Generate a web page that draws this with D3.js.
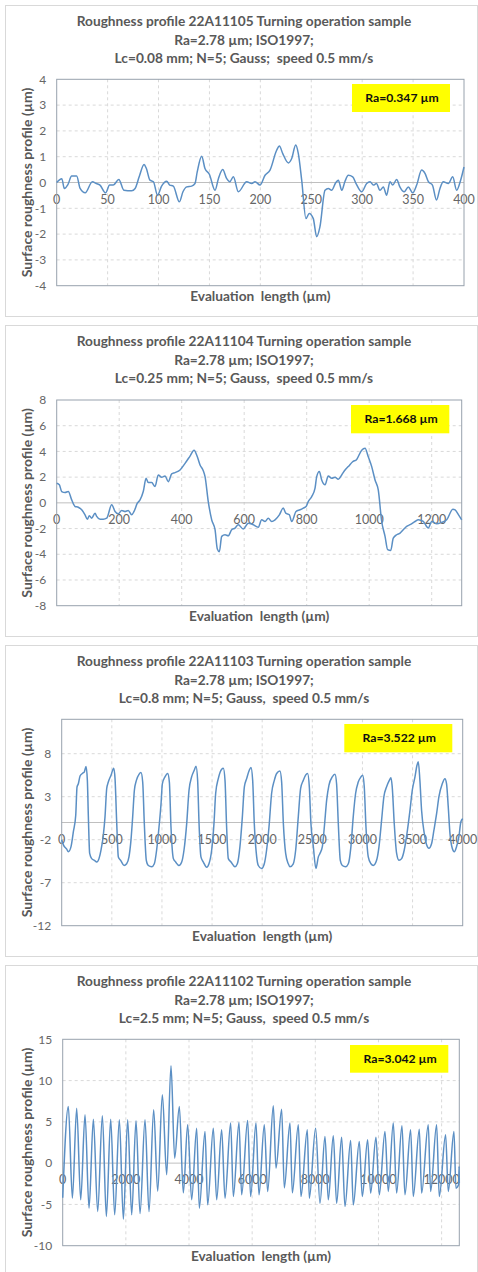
<!DOCTYPE html>
<html><head><meta charset="utf-8">
<script src="https://cdn.jsdelivr.net/npm/d3@7"></script>
<style>body{margin:0;background:#fff;} svg{display:block;} text{white-space:pre;}</style>
</head><body><svg id="c" width="478" height="1272"></svg>
<script>
// ---------- DATA ----------
const titles = [
 ["Roughness profile 22A11105 Turning operation sample","Ra=2.78 µm; ISO1997;","Lc=0.08 mm; N=5; Gauss;  speed 0.5 mm/s"],
 ["Roughness profile 22A11104 Turning operation sample","Ra=2.78 µm; ISO1997;","Lc=0.25 mm; N=5; Gauss,  speed 0.5 mm/s"],
 ["Roughness profile 22A11103 Turning operation sample","Ra=2.78 µm; ISO1997;","Lc=0.8 mm; N=5; Gauss,  speed 0.5 mm/s"],
 ["Roughness profile 22A11102 Turning operation sample","Ra=2.78 µm; ISO1997;","Lc=2.5 mm; N=5; Gauss,  speed 0.5 mm/s"]
];
const raLabels = ["Ra=0.347 µm","Ra=1.668 µm","Ra=3.522 µm","Ra=3.042 µm"];
const xAxisTitle = "Evaluation  length (µm)";
const yAxisTitle = "Surface roughness profile (µm)";

const xTicks1 = [0,50,100,150,200,250,300,350,400];
const yTicks1 = [-4,-3,-2,-1,0,1,2,3,4];
const xTicks2 = [0,200,400,600,800,1000,1200];
const yTicks2 = [-8,-6,-4,-2,0,2,4,6,8];
const xTicks3 = [0,500,1000,1500,2000,2500,3000,3500,4000];
const yTicks3 = [-12,-7,-2,3,8];
const xTicks4 = [0,2000,4000,6000,8000,10000,12000];
const yTicks4 = [-10,-5,0,5,10,15];
const xMax = [400,1296,4000,12560];
const yMin = [-4,-8,-12,-10];
const yMax = [4,8,12,15];

// profile 22A11105 : [x, z]
const profile1 = [[0,0],[5,0.15],[7.5,-0.23],[11,-0.08],[14.7,0.25],[19.6,0.25],[23,-0.23],[28,-0.4],[35,0.03],[39,-0.04],[42.5,-0.1],[48,-0.4],[52,-0.1],[55.6,-0.1],[61,0.12],[66,-0.3],[73.6,-0.32],[77,-0.23],[81,0.22],[85.8,0.7],[88,0.55],[91.6,0.09],[95,0.03],[99,-0.49],[103,-0.14],[108,0.05],[111,-0.1],[114.5,-0.14],[120.5,-0.75],[124,-0.36],[127.7,-0.17],[132.5,-0.14],[135.8,-0.04],[138,0.41],[142.4,1.02],[145.6,0.54],[149.9,0.32],[155.5,-0.3],[158.8,0.15],[163,0.5],[167,0.15],[170,0.03],[173.5,0.22],[178.4,-0.36],[186.6,0.03],[191.5,-0.04],[194.8,0.03],[199.7,-0.1],[204.6,0.28],[209.5,0.48],[216,1.25],[218.7,1.41],[222,1.12],[227.5,0.76],[230.8,0.93],[234.7,1.45],[237.3,1.12],[240.6,0.09],[244.8,-1.4],[248,-1.2],[252,-1.4],[255.3,-2.1],[258.5,-1.72],[263.5,-0.3],[266.8,-0.23],[270,-0.3],[274,-0.01],[276.6,0.09],[280,-0.3],[283,0.03],[286.4,0.28],[290.7,0.22],[294,-0.04],[299.5,-0.36],[304.4,-0.04],[307.7,0.03],[311,-0.1],[314,-0.04],[317.5,-0.3],[320.8,-0.17],[324,-0.49],[327.3,0.03],[330,-0.1],[333.9,0.12],[337,-0.17],[341.3,-0.36],[345.3,-0.17],[349.6,-0.4],[353.5,-0.1],[358.4,0.48],[361.7,0.35],[365,0.03],[369,-0.1],[373,-0.68],[376.4,-0.23],[379.6,0.03],[384.6,-0.04],[388.9,0.22],[392.8,-0.3],[396.7,0.09],[400,0.6]];

// profile 22A11104
const profile2 = [[0,1.52],[8.5,1.4],[16,0.88],[26.7,0.8],[37,0.88],[48,0.23],[58.7,-0.28],[69,-0.34],[80,-0.54],[90.7,-0.93],[98,-1.27],[104.5,-1.0],[112,-1.19],[122.7,-0.8],[128,-1.06],[138.7,-1.27],[149,-1.27],[160,-1.19],[176,-0.15],[186.7,-0.67],[197,-0.85],[208,-0.6],[218.7,-0.67],[229,-0.6],[240,-0.93],[247.5,-0.67],[258,-0.03],[266.7,0.23],[277,0.88],[286,1.91],[293,1.58],[304,1.58],[314.7,1.27],[325,2.17],[336,1.99],[346.7,2.09],[357,1.65],[368,2.25],[378.7,2.35],[394.7,2.56],[410.7,3.07],[426.7,3.64],[439.5,4.1],[450,3.59],[458.7,2.95],[469,2.5],[474.7,2.04],[485,0.1],[496,-1.32],[506.7,-2.09],[514,-3.59],[520.5,-3.8],[528,-2.61],[538.7,-2.48],[549,-2.56],[560,-2.09],[570.7,-1.96],[581,-1.7],[597,-2.04],[613,-1.58],[629,-1.7],[645,-1.89],[656,-1.32],[666.7,-1.45],[677,-1.19],[688,-1.45],[698.7,-1.32],[712.5,-0.93],[725,-0.41],[733,-0.8],[744.5,-0.93],[752,-1.45],[765.9,-0.67],[778.7,-0.54],[789,-0.41],[798,-0.28],[805,0.1],[816,0.49],[826.7,1.14],[832,2.04],[840.5,2.43],[848,1.78],[858.7,1.4],[869,2.09],[880,1.91],[890.7,1.99],[901,1.83],[912,2.17],[922.7,2.56],[933,2.82],[947,3.2],[960,3.38],[976,4.1],[986.7,4.24],[997,3.59],[1008,2.82],[1018.7,1.78],[1029,1.0],[1040,-1.45],[1050.7,-2.61],[1059,-3.64],[1069,-3.7],[1077,-2.74],[1088,-2.48],[1098.7,-2.35],[1109,-2.09],[1120,-1.83],[1130.7,-1.7],[1146.7,-1.45],[1157,-1.32],[1173,-1.45],[1189,-1.96],[1200,-1.45],[1216,-1.63],[1232,-1.52],[1248,-1.32],[1267.7,-0.49],[1275,-0.54],[1285.9,-0.93],[1296,-1.32]];

// profile 22A11103
const profile3 = [[0,-2.0],[17,-2.6],[50,-3.1],[66,-3.4],[93,-2.8],[116,-1.1],[140,0.85],[153,4.15],[166,4.5],[183,5.4],[206,5.7],[226,5.9],[243,6.5],[256,4.9],[266,0.66],[279,-3.6],[299,-4.2],[326,-4.4],[349,-4.6],[372,-4.2],[392,-3.2],[415,-1.5],[432,0.66],[449,3.95],[465,4.7],[492,5.5],[519,6.3],[532,5.1],[549,-0.1],[565,-4.0],[588,-4.4],[622,-5.0],[648,-4.8],[671,-4.0],[691,-2.05],[708,0.66],[725,3.75],[745,4.9],[771,5.6],[791,5.8],[808,4.7],[824,-0.1],[844,-4.4],[864,-5.0],[898,-5.15],[924,-4.8],[947,-3.2],[971,-0.5],[991,2.2],[1004,4.5],[1030,5.3],[1057,5.7],[1074,4.7],[1090,-0.5],[1114,-4.2],[1137,-4.6],[1170,-5.0],[1197,-4.6],[1220,-3.2],[1247,-0.1],[1270,3.75],[1296,5.3],[1323,6.1],[1340,6.55],[1356,4.9],[1370,-0.1],[1389,-4.0],[1413,-4.6],[1446,-5.2],[1469,-4.8],[1496,-3.2],[1519,-0.1],[1536,3.4],[1562,5.1],[1596,6.2],[1612,6.3],[1629,4.9],[1645,-0.5],[1662,-4.2],[1689,-4.6],[1728,-5.15],[1752,-4.8],[1778,-2.8],[1802,0.66],[1822,4.15],[1845,5.1],[1872,6.1],[1888,6.4],[1905,4.9],[1921,-0.1],[1945,-4.0],[1961,-5.0],[1994,-5.35],[2021,-4.8],[2044,-3.2],[2068,-0.5],[2094,3.4],[2121,4.9],[2144,5.7],[2177,6.0],[2194,4.7],[2211,-0.1],[2234,-3.6],[2260,-4.8],[2277,-5.15],[2310,-4.8],[2334,-3.2],[2360,0.66],[2383,3.95],[2410,4.9],[2433,5.5],[2453,5.7],[2470,4.15],[2486,-0.1],[2510,-2.8],[2536,-5.35],[2560,-4.0],[2576,-3.6],[2600,-2.8],[2620,-0.5],[2643,2.6],[2666,4.35],[2699,5.3],[2726,5.6],[2742,4.5],[2759,-0.1],[2779,-4.4],[2799,-5.0],[2832,-5.15],[2859,-4.8],[2885,-2.8],[2908,0.66],[2932,3.4],[2958,4.7],[2985,5.3],[3002,5.5],[3018,4.15],[3035,-0.5],[3058,-4.0],[3085,-4.8],[3108,-5.0],[3141,-4.4],[3165,-2.8],[3191,0.27],[3214,3.0],[3241,4.15],[3268,4.9],[3284,5.2],[3297,4.15],[3317,-0.1],[3341,-3.6],[3364,-4.4],[3391,-4.2],[3417,-3.2],[3444,-1.3],[3474,1.4],[3497,3.75],[3524,5.3],[3544,6.65],[3557,7.05],[3573,4.9],[3590,1.4],[3617,-1.3],[3640,-2.6],[3663,-3.0],[3690,-2.45],[3713,-0.9],[3740,1.05],[3763,3.0],[3796,4.5],[3823,5.1],[3839,4.5],[3856,1.8],[3873,-1.3],[3896,-3.0],[3916,-3.4],[3939,-2.8],[3962,-1.65],[3982,0.08],[4000,0.45]];

// profile 22A11102
const profile4 = [[0,-4.2],[179,6.87],[306,-4.24],[443,6.66],[570,-4.44],[707,5.86],[834,-5.45],[971,5.33],[1108,-5.86],[1256,5.74],[1383,-6.46],[1520,5.33],[1646,-6.26],[1794,5.25],[1921,-6.79],[2058,5.25],[2185,-6.26],[2322,5.13],[2449,-6.1],[2607,5.25],[2733,-5.86],[2881,6.46],[3008,-3.4],[3156,8.28],[3293,-1.4],[3430,11.8],[3546,0.6],[3694,6.87],[3820,-3.6],[3958,4.64],[4084,-4.44],[4243,4.24],[4327,-5.45],[4507,3.84],[4591,-5.05],[4770,4.24],[4876,-4.44],[5034,4.04],[5140,-4.24],[5319,4.85],[5404,-4.04],[5583,4.93],[5667,-3.84],[5857,5.17],[5952,-4.04],[6121,4.85],[6216,-3.84],[6385,4.64],[6491,-3.43],[6670,6.95],[6755,-0.6],[6934,6.54],[7018,-3.0],[7198,4.85],[7272,-3.6],[7462,4.64],[7546,-4.04],[7747,4.04],[7810,-4.24],[8010,4.24],[8148,-4.85],[8306,3.23],[8412,-4.44],[8570,3.31],[8675,-4.85],[8834,3.15],[8939,-5.25],[9119,2.75],[9203,-5.05],[9393,2.63],[9488,-4.04],[9657,2.83],[9752,-3.63],[9921,3.15],[10026,-3.84],[10206,3.84],[10311,-3.43],[10469,4.85],[10575,-3.63],[10744,4.52],[10839,-3.84],[11018,4.04],[11103,-4.04],[11293,4.12],[11367,-3.63],[11577,4.64],[11652,-3.43],[11841,4.64],[11926,-4.04],[12126,3.43],[12211,-3.43],[12390,3.84],[12454,-3.03],[12540,-2.6],[12555,-0.4],[12560,-2.4]];

// ---------- LAYOUT ----------
const panels = [
 {title:titles[0], ra:raLabels[0], data:profile1, xt:xTicks1, yt:yTicks1, xd:[0,xMax[0]], yd:[yMin[0],yMax[0]],
  frame:[5,316], plot:{l:56.7,r:464,t:79.3,b:285.7}, box:[352,84,98,28]},
 {title:titles[1], ra:raLabels[1], data:profile2, xt:xTicks2, yt:yTicks2, xd:[0,xMax[1]], yd:[yMin[1],yMax[1]],
  frame:[325,636], plot:{l:56.7,r:461.7,t:400,b:605.7}, box:[351,405,98.3,28.3]},
 {title:titles[2], ra:raLabels[2], data:profile3, xt:xTicks3, yt:yTicks3, xd:[0,xMax[2]], yd:[yMin[2],yMax[2]],
  frame:[645,956], plot:{l:61.7,r:462.7,t:719.3,b:925.7}, box:[344.3,724,108,28.3]},
 {title:titles[3], ra:raLabels[3], data:profile4, xt:xTicks4, yt:yTicks4, xd:[0,xMax[3]], yd:[yMin[3],yMax[3]],
  frame:[965,1300], plot:{l:62.7,r:459.3,t:1039.3,b:1245.7}, box:[350,1045,98.3,27.7]}
];

const FONT = "Lato, 'Open Sans', sans-serif";
const svg = d3.select("#c");
svg.append("rect").attr("width",478).attr("height",1272).attr("fill","#fff");

panels.forEach(p => {
  const g = svg.append("g");
  g.append("rect").attr("x",5.5).attr("y",p.frame[0]+0.5).attr("width",472).attr("height",p.frame[1]-p.frame[0])
    .attr("fill","#fff").attr("stroke","#d9d9d9").attr("stroke-width",1);

  const x = d3.scaleLinear().domain(p.xd).range([p.plot.l,p.plot.r]);
  const y = d3.scaleLinear().domain(p.yd).range([p.plot.b,p.plot.t]);

  // title
  p.title.forEach((t,i) => {
    g.append("text").attr("x",244).attr("y",p.frame[0]+16.7+i*18.3).attr("dy","0.35em")
      .attr("text-anchor","middle").attr("font-family",FONT).attr("font-weight","bold")
      .attr("font-size",13.7).attr("fill","#595959").text(t);
  });

  // grid
  g.selectAll(".vg").data(p.xt.filter(v=>v>p.xd[0] && v<p.xd[1])).join("line")
    .attr("x1",d=>x(d)).attr("x2",d=>x(d)).attr("y1",p.plot.t).attr("y2",p.plot.b)
    .attr("stroke","#d9d9d9").attr("stroke-dasharray","3,3").attr("stroke-width",1);
  g.selectAll(".hg").data(p.yt.filter(v=>v>p.yd[0] && v<p.yd[1] && v!==0)).join("line")
    .attr("x1",p.plot.l).attr("x2",p.plot.r).attr("y1",d=>y(d)).attr("y2",d=>y(d))
    .attr("stroke","#d9d9d9").attr("stroke-dasharray","3,3").attr("stroke-width",1);

  // zero axis line
  g.append("line").attr("x1",p.plot.l).attr("x2",p.plot.r).attr("y1",y(0)).attr("y2",y(0))
    .attr("stroke","#bfbfbf").attr("stroke-width",1);

  // y tick labels
  g.selectAll(".yl").data(p.yt).join("text")
    .attr("x",p.plot.l-10.5).attr("y",d=>y(d)).attr("dy","0.35em").attr("text-anchor","end")
    .attr("font-family",FONT).attr("font-size",12).attr("fill","#666").text(d=>d);
  // x tick labels (next to zero axis)
  g.selectAll(".xl").data(p.xt).join("text")
    .attr("x",d=>x(d)).attr("y",y(0)+16.8).attr("dy","0.35em").attr("text-anchor","middle")
    .attr("font-family",FONT).attr("font-size",12.5).attr("fill","#666").text(d=>d);

  // plot border
  g.append("rect").attr("x",p.plot.l).attr("y",p.plot.t).attr("width",p.plot.r-p.plot.l).attr("height",p.plot.b-p.plot.t)
    .attr("fill","none").attr("stroke","#98a2ad").attr("stroke-width",1);

  // profile line
  const line = d3.line().x(d=>x(d[0])).y(d=>y(d[1])).curve(d3.curveMonotoneX);
  g.append("path").datum(p.data).attr("d",line).attr("fill","none")
    .attr("stroke","#5b8fc4").attr("stroke-width",1.5).attr("stroke-linejoin","round");

  // Ra box
  g.append("rect").attr("x",p.box[0]).attr("y",p.box[1]).attr("width",p.box[2]).attr("height",p.box[3]).attr("fill","#ffff00");
  g.append("text").attr("x",p.box[0]+p.box[2]/2+1).attr("y",p.box[1]+p.box[3]/2).attr("dy","0.35em")
    .attr("text-anchor","middle").attr("font-family",FONT).attr("font-weight","bold").attr("font-size",12.2)
    .attr("fill","#111").text(p.ra);

  // axis titles
  const cx = (p.plot.l+p.plot.r)/2, cy = (p.plot.t+p.plot.b)/2;
  g.append("text").attr("x",cx).attr("y",p.plot.b+11).attr("dy","0.35em").attr("text-anchor","middle")
    .attr("font-family",FONT).attr("font-weight","bold").attr("font-size",13.7).attr("fill","#595959").text(xAxisTitle);
  g.append("text").attr("transform",`translate(27,${cy}) rotate(-90)`).attr("dy","0.35em").attr("text-anchor","middle")
    .attr("font-family",FONT).attr("font-weight","bold").attr("font-size",14).attr("fill","#595959").text(yAxisTitle);
});
</script></body></html>
